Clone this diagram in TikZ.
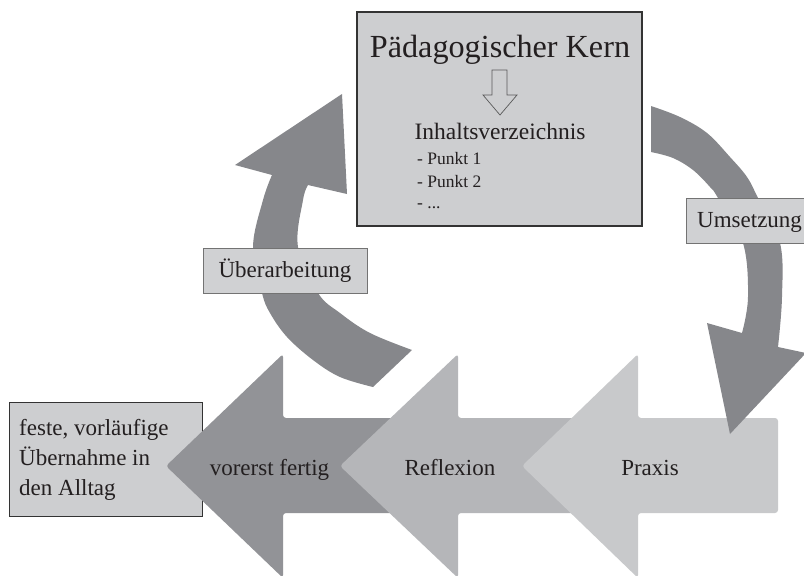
\documentclass[tikz,border=0pt]{standalone}
\usepackage{fontspec}
\setmainfont{Liberation Serif}
\definecolor{arcgray}{HTML}{86878B}
\definecolor{arrA}{HTML}{929397}
\definecolor{arrB}{HTML}{B5B6B9}
\definecolor{arrC}{HTML}{C8C9CB}
\definecolor{boxfill}{HTML}{CDCED0}
\definecolor{lblfill}{HTML}{D0D1D3}
\definecolor{txt}{HTML}{231F20}
\begin{document}
\begin{tikzpicture}[x=1pt,y=-1pt,
  bigarrow/.style={rounded corners=3pt},
  lbl/.style={text=txt,font=\fontsize{23}{28}\selectfont,inner sep=0pt},
  small/.style={text=txt,font=\fontsize{17.5}{21}\selectfont,inner sep=0pt,anchor=base west},
  lblbox/.style={draw=black!55,line width=0.8pt,fill=lblfill,inner sep=0pt}]
\useasboundingbox (0,0) rectangle (804,576);
\clip (0,0) rectangle (804,576);
\fill[white] (0,0) rectangle (804,576);

% main box
\node[draw=black!80,line width=1.3pt,fill=boxfill,minimum width=285pt,minimum height=214pt,inner sep=0pt] (kern) at (499.5,119) {};
\node[text=txt,font=\fontsize{32.2}{38}\selectfont,inner sep=0pt,anchor=base] (title) at (500,57) {Pädagogischer Kern};
\draw[black!65,line width=0.7pt,line join=miter] (492,70) -- (507,70) -- (507,95) -- (517,95) -- (500,115) -- (483,95) -- (492,95) -- cycle;
\node[text=txt,font=\fontsize{23.5}{28}\selectfont,inner sep=0pt,anchor=base] (inh) at (500,139) {Inhaltsverzeichnis};
\node[small] (p1) at (417,164) {- Punkt 1};
\node[small] (p2) at (417,187) {- Punkt 2};
\node[small] (p3) at (417,208) {- ...};

% feste box
\node[draw=black!80,line width=1pt,fill=boxfill,minimum width=193pt,minimum height=114pt,inner sep=0pt] (feste) at (105.5,459) {};
\node[lbl,anchor=base west] (f1) at (19,435) {feste, vorläufige};
\node[lbl,anchor=base west] (f2) at (19,465) {Übernahme in};
\node[lbl,anchor=base west] (f3) at (19,495) {den Alltag};

% bottom arrows
\fill[arrA,bigarrow] (166,466) -- (283,354) -- (283,418) -- (430,418) -- (430,513) -- (283,513) -- (283,578) -- cycle;
\fill[arrB,bigarrow] (340,466) -- (458,354) -- (458,418) -- (600,418) -- (600,513) -- (458,513) -- (458,578) -- cycle;
\fill[arrC,bigarrow] (522,466) -- (638,354) -- (638,418) -- (778,418) -- (778,513) -- (638,513) -- (638,578) -- cycle;
\node[lbl,anchor=base] (vf) at (269.5,475) {vorerst fertig};
\node[lbl,anchor=base] (refl) at (450,475) {Reflexion};
\node[lbl,anchor=base] (prax) at (650,475) {Praxis};

% right curved arrow (Umsetzung)
\fill[arcgray] (651,152) -- (651,106)
  -- plot[smooth,tension=0.6] coordinates {(651,106) (680,117) (707,133) (730,157) (747,177) (758,198) (780,243) (782,297) (778,347)}
  -- (806,353) -- (730,434) -- (707,323)
  -- plot[smooth,tension=0.6] coordinates {(742,333) (748,297) (743,243) (718,198) (710,187) (693,170) (673,158) (651,152)}
  -- cycle;

% left curved arrow (Ueberarbeitung)
\fill[arcgray] (373,387) -- (412,350)
  -- plot[smooth,tension=0.6] coordinates {(412,350) (370,333) (340,313) (318,293) (298,247) (303,200) (308,185)}
  -- (347,194) -- (342,94) -- (235,165) -- (272,175)
  -- plot[smooth,tension=0.6] coordinates {(272,175) (263,200) (253,247) (262,293) (270,313) (287,337) (313,360) (340,377) (373,387)}
  -- cycle;

% labels on arcs
\node[lblbox,minimum width=164pt,minimum height=45pt] (ueb) at (285,270.5) {};
\node[lbl,anchor=base] (uebt) at (285,277) {Überarbeitung};
\node[lblbox,minimum width=129pt,minimum height=45pt] (ums) at (750.5,220.5) {};
\node[lbl,anchor=base west] (umst) at (697,227) {Umsetzung};
\end{tikzpicture}
\end{document}
